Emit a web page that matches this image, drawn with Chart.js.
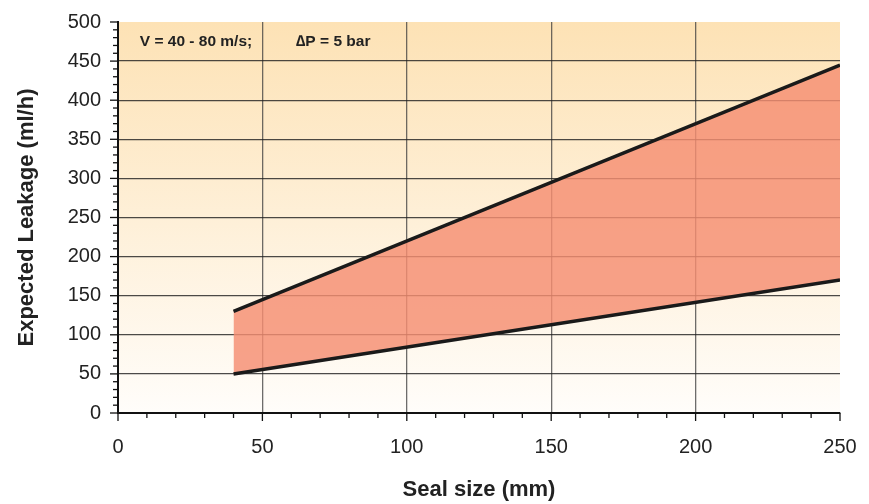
<!DOCTYPE html>
<html><head><meta charset="utf-8">
<script src="https://cdn.jsdelivr.net/npm/chart.js@4"></script>
<style>html,body{margin:0;padding:0;background:#fff}#wrap{width:869px;height:504px}</style>
</head><body><div id="wrap"><canvas id="c" width="869" height="504"></canvas></div>
<script>
const sealSize = [40, 250];
const upperLeakage = [130, 445];
const lowerLeakage = [50, 170];
const xTicks = [0, 50, 100, 150, 200, 250];
const yTicks = [0, 50, 100, 150, 200, 250, 300, 350, 400, 450, 500];
const notes = ["V = 40 - 80 m/s;", "\u2206P = 5 bar"];
const xTitle = "Seal size (mm)";
const yTitle = "Expected Leakage (ml/h)";

const FONT = '"Liberation Sans", Arial, sans-serif';

const bgPlugin = {
  id: 'bg',
  beforeDraw(chart) {
    const {ctx, chartArea: a} = chart;
    const g = ctx.createLinearGradient(0, a.top, 0, a.bottom);
    g.addColorStop(0, '#fde2b5');
    g.addColorStop(1, '#fffdfa');
    ctx.save(); ctx.fillStyle = g; ctx.fillRect(a.left, a.top, a.right - a.left, a.bottom - a.top); ctx.restore();
  },
  afterDraw(chart) {
    const {ctx, chartArea: a, scales: {x, y}} = chart;
    ctx.save();
    ctx.strokeStyle = '#111'; ctx.lineWidth = 1.3;
    for (let v = 0; v <= 500; v += 10) {
      const py = y.getPixelForValue(v);
      const len = v % 50 === 0 ? 8 : 5;
      ctx.beginPath(); ctx.moveTo(a.left - len, py); ctx.lineTo(a.left, py); ctx.stroke();
    }
    for (let v = 0; v <= 250; v += 10) {
      const px = x.getPixelForValue(v);
      const len = v % 50 === 0 ? 8 : 5;
      ctx.beginPath(); ctx.moveTo(px, a.bottom); ctx.lineTo(px, a.bottom + len); ctx.stroke();
    }
    ctx.fillStyle = '#222';
    ctx.font = 'bold 15.5px ' + FONT;
    ctx.textAlign = 'center'; ctx.textBaseline = 'middle';
    const ny = y.getPixelForValue(475);
    ctx.fillText(notes[0], x.getPixelForValue(27), ny);
    ctx.fillText(notes[1], x.getPixelForValue(74.5), ny);
    ctx.restore();
  }
};

new Chart(document.getElementById('c'), {
  type: 'line',
  data: {
    datasets: [
      { data: sealSize.map((s, i) => ({x: s, y: upperLeakage[i]})), borderColor: '#1a1a1a', borderWidth: 3.5,
        pointRadius: 0, fill: false },
      { data: sealSize.map((s, i) => ({x: s, y: lowerLeakage[i]})), borderColor: '#1a1a1a', borderWidth: 3.5,
        pointRadius: 0, fill: '-1', backgroundColor: 'rgba(245,142,114,0.82)' }
    ]
  },
  plugins: [bgPlugin],
  options: {
    responsive: false, animation: false,
    layout: { padding: { left: 0, right: 29, top: 22, bottom: 0 } },
    plugins: { legend: { display: false }, tooltip: { enabled: false } },
    scales: {
      x: {
        type: 'linear', min: 0, max: 250,
        afterBuildTicks: s => { s.ticks = xTicks.map(v => ({value: v})); },
        afterFit: s => { s.height = 91; s.paddingLeft = 0; s.paddingRight = 0; },
        ticks: { color: '#222', font: { family: FONT, size: 20 }, padding: 22 },
        grid: { drawTicks: false, lineWidth: 1.3,
          color: c => (c.tick && (c.tick.value === 0 || c.tick.value === 250)) ? 'rgba(0,0,0,0)' : 'rgba(60,60,60,0.75)' },
        border: { color: '#111', width: 2 },
        title: { display: true, text: xTitle, color: '#222', font: { family: FONT, size: 22, weight: 'bold' }, padding: { top: 0, bottom: 1 } }
      },
      y: {
        min: 0, max: 500,
        afterBuildTicks: s => { s.ticks = yTicks.map(v => ({value: v})); },
        afterFit: s => { s.width = 118; s.paddingTop = 0; s.paddingBottom = 0; },
        ticks: { color: '#222', font: { family: FONT, size: 20 }, padding: 17 },
        grid: { drawTicks: false, lineWidth: 1.3,
          color: c => (c.tick && (c.tick.value === 0 || c.tick.value === 500)) ? 'rgba(0,0,0,0)' : 'rgba(30,30,30,0.8)' },
        border: { color: '#111', width: 2 },
        title: { display: true, text: yTitle, color: '#222', font: { family: FONT, size: 22, weight: 'bold' }, padding: { top: 14, bottom: 0 } }
      }
    }
  }
});
</script></body></html>
